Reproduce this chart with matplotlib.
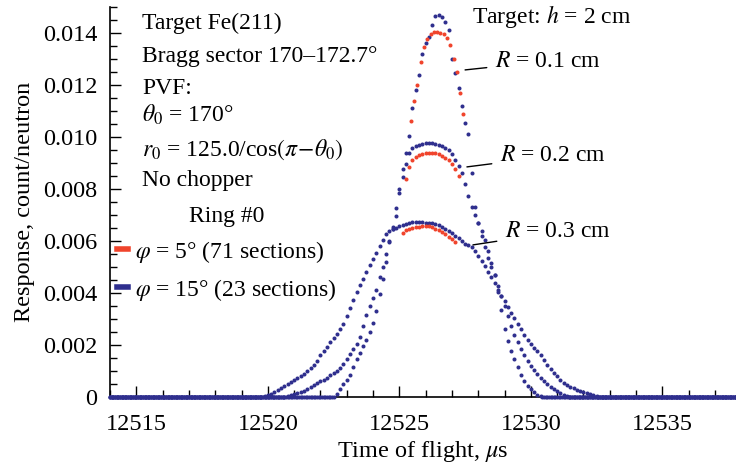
import numpy as np
import matplotlib
matplotlib.use("Agg")
import matplotlib.pyplot as plt
from matplotlib.lines import Line2D

plt.rcParams['font.family'] = ['Liberation Serif', 'DejaVu Serif']
plt.rcParams['mathtext.fontset'] = 'stix'
plt.rcParams['font.size'] = 17

# time grid step of the simulation, microseconds
dt = 0.125
t_min, t_max = 12514.0, 12537.8

# response values in units of 1e-3 count/neutron
# phi = 15 deg (blue), one list per target radius, starting at the given time
start_b03 = 12519.75
resp_b03 = [0.0, 0.03, 0.08, 0.13, 0.19, 0.27, 0.35, 0.43, 0.5, 0.57,
            0.64, 0.72, 0.8, 0.9, 1.0, 1.1, 1.22, 1.4, 1.6, 1.77,
            1.93, 2.1, 2.27, 2.44, 2.6, 2.82, 3.12, 3.44, 3.75, 4.05,
            4.3, 4.55, 4.8, 5.07, 5.3, 5.55, 5.8, 6.05, 6.25, 6.4,
            6.45, 6.5, 6.56, 6.6, 6.65, 6.68, 6.72, 6.73, 6.72, 6.73,
            6.71, 6.7, 6.68, 6.64, 6.6, 6.54, 6.47, 6.38, 6.3, 6.21,
            6.12, 6.0, 5.9, 5.84, 5.75, 5.6, 5.42, 5.23, 5.02, 4.8,
            4.6, 4.37, 4.13, 3.9, 3.68, 3.47, 3.25, 3.04, 2.82, 2.6,
            2.38, 2.2, 2.05, 1.9, 1.76, 1.6, 1.42, 1.25, 1.07, 0.92,
            0.8, 0.67, 0.55, 0.46, 0.4, 0.33, 0.28, 0.23, 0.18, 0.14,
            0.1, 0.07, 0.04]

start_b02 = 12520.625
resp_b02 = [0.0, 0.03, 0.07, 0.1, 0.15, 0.2, 0.25, 0.3, 0.37, 0.45,
            0.52, 0.6, 0.67, 0.75, 0.83, 0.92, 1.0, 1.1, 1.28, 1.45,
            1.65, 1.85, 2.05, 2.3, 2.75, 3.15, 3.5, 3.8, 4.12, 4.6,
            5.0, 5.5, 6.0, 6.45, 6.95, 7.85, 8.45, 8.95, 9.4, 9.58,
            9.65, 9.7, 9.74, 9.76, 9.77, 9.75, 9.72, 9.7, 9.65, 9.58,
            9.5, 9.35, 9.12, 8.88, 8.6, 8.2, 7.72, 7.3, 7.0, 6.7,
            6.4, 6.05, 5.6, 5.15, 4.7, 4.28, 3.9, 3.5, 3.12, 2.75,
            2.38, 2.1, 1.85, 1.6, 1.38, 1.2, 1.04, 0.87, 0.72, 0.6,
            0.5, 0.4, 0.32, 0.22, 0.15, 0.08, 0.03]

start_b01 = 12522.5
resp_b01 = [0.0, 0.12, 0.3, 0.5, 0.65, 0.85, 1.15, 1.45, 1.7, 1.95,
            2.2, 2.5, 2.85, 3.3, 3.98, 4.55, 5.2, 5.95, 6.55, 7.25,
            8.0, 8.75, 9.4, 10.05, 11.1, 11.8, 12.4, 13.2, 13.6, 13.85,
            14.3, 14.65, 14.7, 14.6, 14.42, 14.1, 13.0, 12.45, 11.9, 11.2,
            10.55, 10.1, 8.6, 7.3, 6.7, 6.2, 5.75, 5.35, 5.0, 4.7,
            4.05, 3.35, 2.6, 2.15, 1.78, 1.45, 1.15, 0.85, 0.63, 0.43,
            0.3, 0.18, 0.08, 0.02]

# phi = 5 deg (red), only the part that is not hidden under the blue dots
start_r01 = 12525.4375
resp_r01 = [10.6, 11.4, 12.0, 12.9, 13.45, 13.75, 13.95, 14.02, 14.02, 14.0,
            13.95, 13.8, 13.55, 13.0, 12.5, 11.7, 10.9]
start_r02 = 12525.25
resp_r02 = [8.4, 8.85, 9.1, 9.23, 9.3, 9.36, 9.38, 9.4, 9.4, 9.38,
            9.33, 9.28, 9.2, 9.1, 8.97, 8.78, 8.5]
start_r03 = 12525.125
resp_r03 = [6.3, 6.42, 6.46, 6.5, 6.53, 6.54, 6.56, 6.57, 6.58, 6.55,
            6.48, 6.42, 6.35, 6.26, 6.17, 6.07, 5.95]

blue = '#2f2f8e'
red = '#f0442c'


def full_series(start, resp):
    # listed stretch plus zero response on both sides (zeros sampled finer,
    # the overlapping dots make the solid baseline of the original)
    t_mid = start + dt * np.arange(len(resp))
    t_left = np.arange(t_min, start, dt / 2)
    t_right = np.arange(t_mid[-1] + dt / 2, t_max + dt / 2, dt / 2)
    t = np.concatenate([t_left, t_mid, t_right])
    y = np.concatenate([np.zeros(len(t_left)), np.array(resp) * 1e-3,
                        np.zeros(len(t_right))])
    return t, y


def part_series(start, resp):
    t = start + dt * np.arange(len(resp))
    return t, np.array(resp) * 1e-3


fig = plt.figure(figsize=(7.36, 4.68), dpi=100)
ax = fig.add_axes([110 / 736, 71 / 468, 626 / 736, 390 / 468])

for start, resp in [(start_b03, resp_b03), (start_b02, resp_b02), (start_b01, resp_b01)]:
    t, y = full_series(start, resp)
    ax.plot(t, y, 'o', ms=2.9, color=blue, mec='none', clip_on=False, zorder=3)

for start, resp in [(start_r01, resp_r01), (start_r02, resp_r02), (start_r03, resp_r03)]:
    t, y = part_series(start, resp)
    ax.plot(t, y, 'o', ms=2.9, color=red, mec='none', clip_on=False, zorder=4)

ax.set_xlim(t_min, t_max)
ax.set_ylim(0, 0.015)
ax.set_xticks([12515, 12520, 12525, 12530, 12535])
ax.set_xticks(np.arange(12514, 12538, 1), minor=True)
ax.set_yticks(np.arange(0, 0.0141, 0.002))
ax.set_yticks(np.arange(0, 0.0151, 0.0005), minor=True)
ax.set_yticklabels(['0'] + ['%.3f' % v for v in np.arange(0.002, 0.0141, 0.002)])
ax.tick_params(which='major', direction='in', length=8, width=1, pad=9,
               labelsize=17.5)
ax.tick_params(which='minor', direction='in', length=5, width=1)
ax.tick_params(axis='x', which='major', pad=12)
for s in ['top', 'right']:
    ax.spines[s].set_visible(False)
ax.spines['left'].set_linewidth(1.2)
ax.spines['bottom'].set_linewidth(1.2)

ax.set_xlabel(r'Time of flight, $\mu$s', labelpad=3, fontsize=17.5)
ax.set_ylabel('Response, count/neutron', labelpad=6, fontsize=17.5)

# text block, upper left
info = ['Target Fe(211)',
        'Bragg sector 170–172.7°',
        'PVF:',
        r'$\theta_0$ = 170°',
        r'$r_0$ = 125.0/cos$(\pi\!-\!\theta_0)$',
        'No chopper']
info_y = [0.959, 0.872, 0.792, 0.723, 0.633, 0.556]
for s, yy in zip(info, info_y):
    ax.text(0.051, yy, s, transform=ax.transAxes, va='center', ha='left')

ax.text(12527.76, 0.01465, r'Target: $h$ = 2 cm', va='center', ha='left')

# radius labels with leader lines
labels_r = [r'$R$ = 0.1 cm', r'$R$ = 0.2 cm', r'$R$ = 0.3 cm']
tip_xy = [(12527.5, 0.01258), (12527.57, 0.00885), (12527.8, 0.00585)]
txt_xy = [(12528.64, 0.01292), (12528.83, 0.00927), (12529.02, 0.00635)]
for s, p, q in zip(labels_r, tip_xy, txt_xy):
    ax.annotate(s, xy=p, xytext=q, va='center', ha='left',
                arrowprops=dict(arrowstyle='-', color='black', lw=1,
                                shrinkA=4, shrinkB=0))

handles = [Line2D([], [], color=red, lw=4),
           Line2D([], [], color=blue, lw=4)]
leg = ax.legend(handles, [r'$\varphi$ = 5° (71 sections)', r'$\varphi$ = 15° (23 sections)'],
                title='Ring #0', loc='upper left', bbox_to_anchor=(0.011, 0.49),
                frameon=False, borderpad=0, borderaxespad=0, handlelength=0.45,
                handletextpad=0.3, labelspacing=0.5, fontsize=17,
                title_fontsize=17)

fig.savefig('out.png', dpi=100)
